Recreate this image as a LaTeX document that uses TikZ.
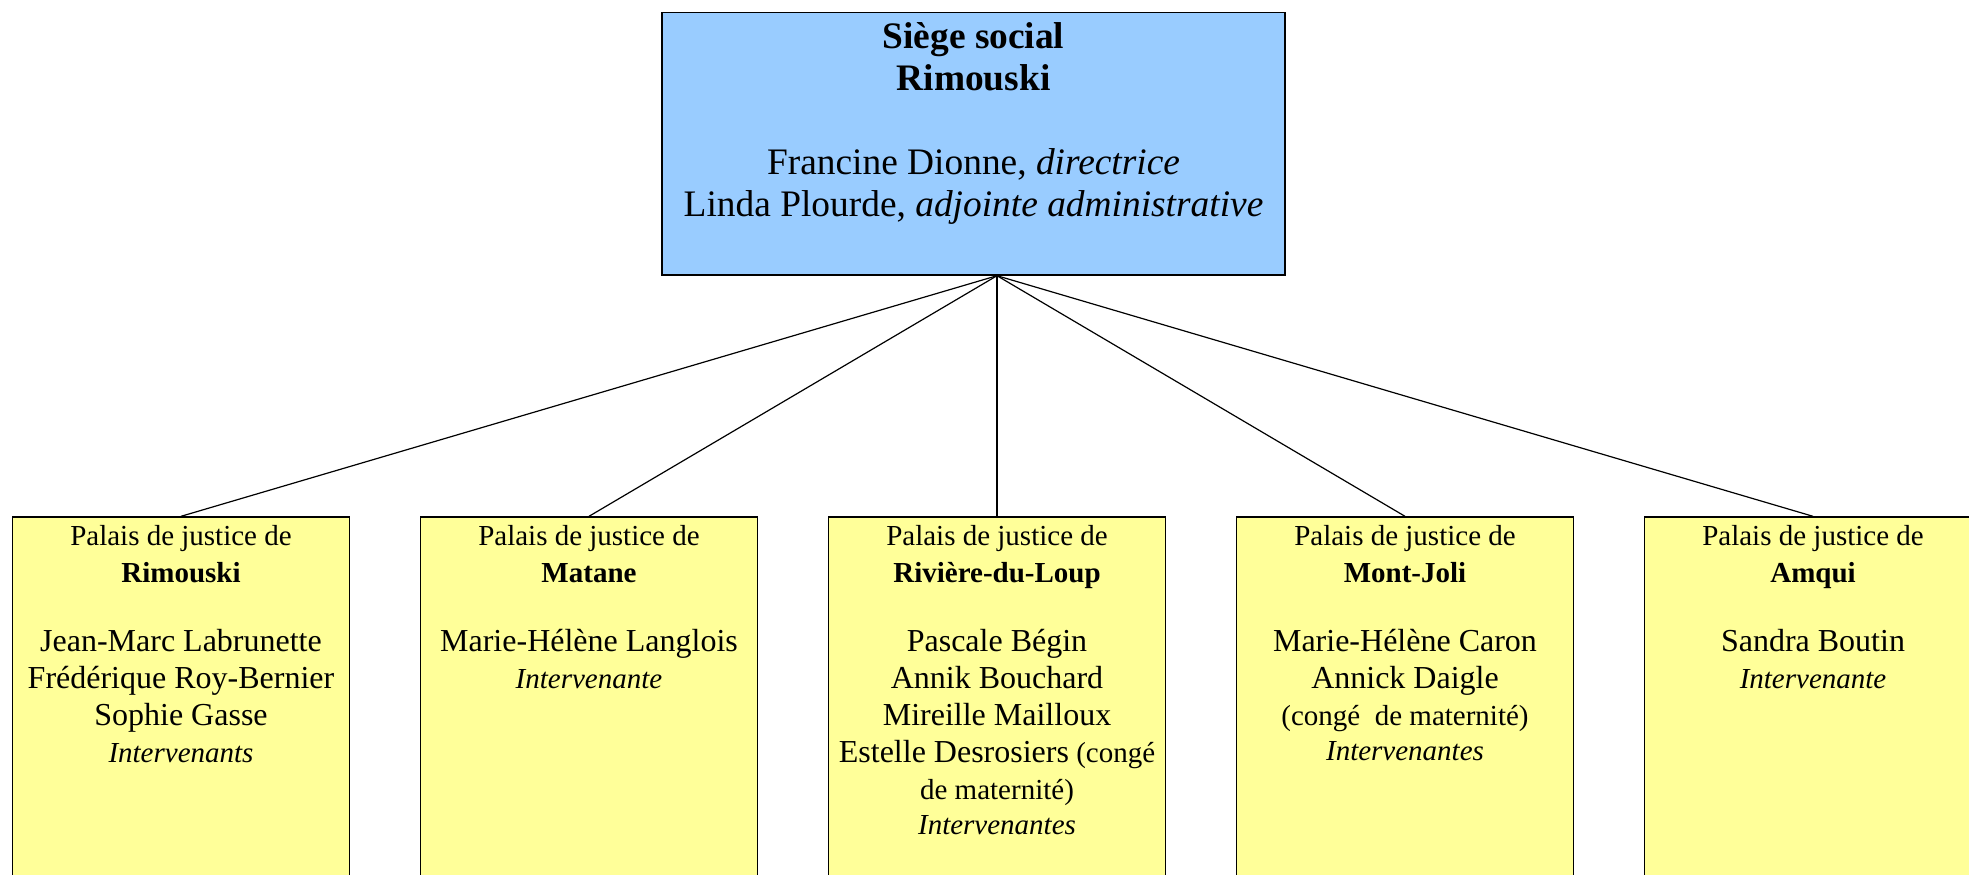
\documentclass[tikz,border=0pt]{standalone}
\usepackage{fontspec}
\setmainfont{Liberation Serif}
\usetikzlibrary{positioning}
\definecolor{siegebleu}{HTML}{99CCFF}
\definecolor{palaisjaune}{HTML}{FFFF99}
\tikzset{siege/.style={draw=black,fill=siegebleu,rectangle,minimum width=311.5pt,minimum height=131.25pt,line width=0.7pt}}
\tikzset{palais/.style={draw=black,fill=palaisjaune,rectangle,minimum width=168.5pt,minimum height=200pt,line width=0.7pt}}
\tikzset{texte/.style={align=center,inner sep=0pt,font=\fontsize{14.5}{18.5}\selectfont}}
\newcommand{\nomfont}{\fontsize{16}{18.5}\selectfont}

\begin{document}
\begin{tikzpicture}[-, semithick, x=0.5pt, y=-0.5pt]
    \useasboundingbox (0,0) rectangle (1969,874);
    \clip (0,0) rectangle (1969,874);

    \node[siege] (hq) at (973.5,143.75) {};

    \node[palais] (rim) at (181,717) {};
    \node[palais] (mat) at (589,717) {};
    \node[palais] (rdl) at (997,717) {};
    \node[palais] (mtj) at (1405,717) {};
    \node[palais] (amq) at (1813,717) {};

    \node[texte, font=\fontsize{18.7}{21}\selectfont, below=5pt of hq.north] (hqtxt)
        {\textbf{Siège social}\\\textbf{Rimouski}\\[21pt]
         Francine Dionne, \textit{directrice}\\
         Linda Plourde, \textit{adjointe administrative}};

    \node[texte, below=4pt of rim.north] (rimtxt)
        {Palais de justice de\\\textbf{Rimouski}\\[16pt]
         {\nomfont Jean-Marc Labrunette}\\
         {\nomfont Frédérique Roy-Bernier}\\
         {\nomfont Sophie Gasse}\\
         \textit{Intervenants}};
    \node[texte, below=4pt of mat.north] (mattxt)
        {Palais de justice de\\\textbf{Matane}\\[16pt]
         {\nomfont Marie-Hélène Langlois}\\
         \textit{Intervenante}};
    \node[texte, below=4pt of rdl.north] (rdltxt)
        {Palais de justice de\\\textbf{Rivière-du-Loup}\\[16pt]
         {\nomfont Pascale Bégin}\\
         {\nomfont Annik Bouchard}\\
         {\nomfont Mireille Mailloux}\\
         {\nomfont Estelle Desrosiers} (congé\\
         de maternité)\\[-1pt]
         \textit{Intervenantes}};
    \node[texte, below=4pt of mtj.north] (mtjtxt)
        {Palais de justice de\\\textbf{Mont-Joli}\\[16pt]
         {\nomfont Marie-Hélène Caron}\\
         {\nomfont Annick Daigle}\\
         (congé~ de maternité)\\[-1pt]
         \textit{Intervenantes}};
    \node[texte, below=4pt of amq.north] (amqtxt)
        {Palais de justice de\\\textbf{Amqui}\\[16pt]
         {\nomfont Sandra Boutin}\\
         \textit{Intervenante}};

    \coordinate (apex) at (hq.south -| rdl.north);

    \path (apex) edge (rim.north);
    \path (apex) edge (mat.north);
    \path (apex) edge (rdl.north);
    \path (apex) edge (mtj.north);
    \path (apex) edge (amq.north);
\end{tikzpicture}
\end{document}
